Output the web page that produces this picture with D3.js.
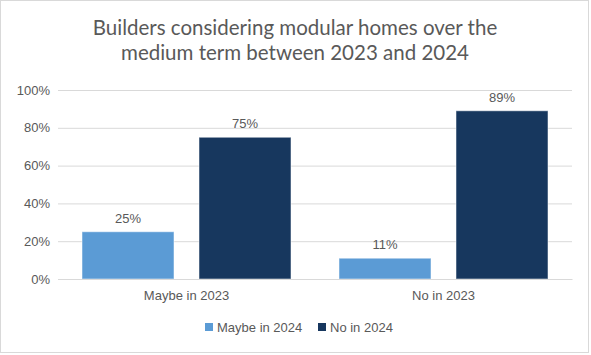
<!DOCTYPE html>
<html><head><meta charset="utf-8">
<script src="https://cdn.jsdelivr.net/npm/d3@7"></script>
<style>body{margin:0;background:#fff}svg{display:block}</style>
</head><body><div id="c"></div>
<script>
const categories = ["Maybe in 2023", "No in 2023"];
const seriesNames = ["Maybe in 2024", "No in 2024"];
const maybe2024 = [25, 11];
const no2024 = [75, 89];
const yTicks = [0, 20, 40, 60, 80, 100];
const titleLines = ["Builders considering modular homes over the", "medium term between 2023 and 2024"];
const colors = ["#5B9BD5", "#17375E"];

const W = 591, H = 355;
const svg = d3.select("#c").append("svg").attr("width", W).attr("height", H);
svg.append("rect").attr("x",0.5).attr("y",0.5).attr("width",588).attr("height",352)
  .attr("fill","#fff").attr("stroke","#d9d9d9");

const plot = {l:58, r:572, t:90, b:279};
const x = d3.scaleBand().domain(categories).range([plot.l, plot.r]);
const xs = d3.scaleBand().domain(seriesNames).range([24, x.bandwidth()-24]).paddingInner(25/117);
const y = d3.scaleLinear().domain([0,100]).range([plot.b, plot.t]);

const tf = "'Liberation Sans', Arial, sans-serif";
const grey = "#595959";

// title
svg.append("g").selectAll("text").data(titleLines).join("text")
  .attr("x", 295).attr("y", (d,i)=>35+i*25).attr("text-anchor","middle")
  .attr("font-family","Lato, sans-serif").attr("font-size",20.5).attr("fill",grey)
  .text(d=>d);

// grid
const yAxis = d3.axisLeft(y).tickValues(yTicks).tickFormat(d=>d+"%").tickSize(-(plot.r-plot.l)).tickPadding(8);
const ga = svg.append("g").attr("transform",`translate(${plot.l},0)`).call(yAxis);
ga.select(".domain").remove();
ga.selectAll(".tick line").attr("stroke","#d9d9d9");
ga.selectAll(".tick text").attr("font-family",tf).attr("font-size",13).attr("fill",grey);

const series = [maybe2024, no2024];
const bars = [];
categories.forEach((c,ci)=>{
  seriesNames.forEach((s,si)=>bars.push({c, s, v: series[si][ci], si}));
});
svg.append("g").selectAll("rect").data(bars).join("rect")
  .attr("x", d=>x(d.c)+xs(d.s)).attr("width", xs.bandwidth())
  .attr("y", d=>y(d.v)).attr("height", d=>y(0)-y(d.v))
  .attr("fill", d=>colors[d.si]).attr("stroke","#fff").attr("stroke-opacity",0.5).attr("stroke-width",1);

svg.append("g").selectAll("text").data(bars).join("text")
  .attr("x", d=>x(d.c)+xs(d.s)+xs.bandwidth()/2).attr("y", d=>y(d.v)-9)
  .attr("text-anchor","middle").attr("font-family",tf).attr("font-size",13).attr("fill",grey)
  .text(d=>d.v+"%");

// category labels
const xAxis = d3.axisBottom(x).tickSize(0).tickPadding(12);
const gx = svg.append("g").attr("transform",`translate(0,${plot.b})`).call(xAxis);
gx.select(".domain").attr("stroke","#d9d9d9");
gx.selectAll(".tick text").attr("font-family",tf).attr("font-size",13).attr("fill",grey);

// legend
const legX = [205, 318];
const lg = svg.append("g").selectAll("g").data(seriesNames).join("g")
  .attr("transform",(d,i)=>`translate(${legX[i]},327)`);
lg.append("rect").attr("x",0).attr("y",-4).attr("width",8).attr("height",8).attr("fill",(d,i)=>colors[i]);
lg.append("text").attr("x",12).attr("y",4.5).attr("font-family",tf).attr("font-size",13).attr("fill",grey).text(d=>d);
</script></body></html>
